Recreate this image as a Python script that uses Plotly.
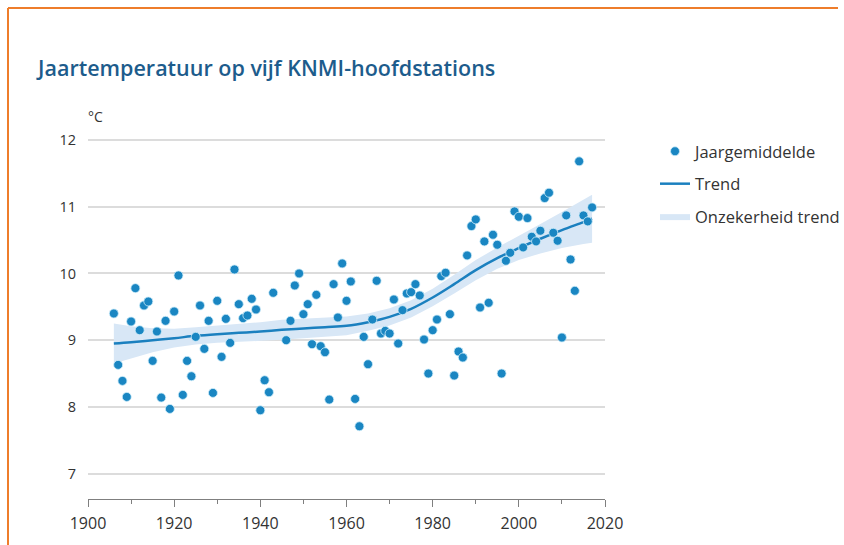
import plotly.graph_objects as go

# ---- data ----
years = list(range(1906, 1944)) + list(range(1946, 2018))
temps = [
    9.40, 8.63, 8.39, 8.15, 9.28, 9.78, 9.15, 9.52, 9.58, 8.69,   # 1906-1915
    9.13, 8.14, 9.29, 7.97, 9.43, 9.97, 8.18, 8.69, 8.46, 9.05,   # 1916-1925
    9.52, 8.87, 9.29, 8.21, 9.59, 8.75, 9.32, 8.96, 10.06, 9.54,  # 1926-1935
    9.33, 9.37, 9.62, 9.46, 7.95, 8.40, 8.22, 9.71,               # 1936-1943
    9.00, 9.29, 9.82, 10.00, 9.39, 9.54, 8.94, 9.68, 8.91, 8.82,  # 1946-1955
    8.11, 9.84, 9.34, 10.15, 9.59, 9.88, 8.12, 7.71, 9.05, 8.64,  # 1956-1965
    9.31, 9.89, 9.10, 9.14, 9.10, 9.61, 8.95, 9.45, 9.70, 9.72,   # 1966-1975
    9.84, 9.67, 9.01, 8.50, 9.15, 9.31, 9.96, 10.01, 9.39, 8.47,  # 1976-1985
    8.83, 8.74, 10.27, 10.71, 10.81, 9.49, 10.48, 9.56, 10.58, 10.43,  # 1986-1995
    8.50, 10.19, 10.31, 10.93, 10.85, 10.39, 10.83, 10.55, 10.48, 10.64,  # 1996-2005
    11.13, 11.21, 10.61, 10.49, 9.04, 10.87, 10.21, 9.74, 11.68, 10.87,  # 2006-2015
    10.78, 10.99,                                                  # 2016-2017
]

trend_years = [1906, 1910, 1915, 1920, 1925, 1930, 1935, 1940, 1945, 1950, 1955, 1960,
               1965, 1970, 1975, 1980, 1985, 1990, 1995, 2000, 2005, 2010, 2015, 2017]
trend = [8.95, 8.97, 9.00, 9.03, 9.065, 9.09, 9.11, 9.13, 9.155, 9.175, 9.195, 9.215,
         9.27, 9.35, 9.47, 9.64, 9.84, 10.05, 10.23, 10.38, 10.52, 10.65, 10.77, 10.82]
band_upper = [9.25, 9.21, 9.18, 9.17, 9.195, 9.22, 9.24, 9.27, 9.305, 9.325, 9.345, 9.355,
              9.40, 9.48, 9.60, 9.77, 9.98, 10.20, 10.39, 10.56, 10.74, 10.92, 11.10, 11.18]
band_lower = [8.65, 8.73, 8.82, 8.89, 8.935, 8.96, 8.98, 8.99, 9.005, 9.025, 9.045, 9.075,
              9.14, 9.22, 9.34, 9.51, 9.70, 9.90, 10.07, 10.20, 10.30, 10.38, 10.44, 10.46]

x_ticks = [1900, 1920, 1940, 1960, 1980, 2000, 2020]
y_ticks = [7, 8, 9, 10, 11, 12]

TITLE = "Jaartemperatuur op vijf KNMI-hoofdstations"
FONT = "Open Sans"
DOT = "#1a86c2"
LINE = "#1b80bf"
BAND = "#d8e7f6"

fig = go.Figure()

fig.add_trace(go.Scatter(
    x=trend_years, y=band_upper, mode="lines", line=dict(width=0, color=BAND),
    hoverinfo="skip", showlegend=False, legendgroup="c"))
fig.add_trace(go.Scatter(
    x=trend_years, y=band_lower, mode="lines", line=dict(width=0, color=BAND),
    fill="tonexty", fillcolor=BAND, name="Onzekerheid trend",
    legendgroup="c", legendrank=3))
fig.add_trace(go.Scatter(
    x=trend_years, y=trend, mode="lines", line=dict(color=LINE, width=2.5, shape="spline"),
    name="Trend", legendgroup="b", legendrank=2))
fig.add_trace(go.Scatter(
    x=years, y=temps, mode="markers",
    marker=dict(color=DOT, size=9, line=dict(width=0.8, color="#cfeefa")),
    name="Jaargemiddelde", legendgroup="a", legendrank=1))

W, H = 844, 545
ml, mr, mt, mb = 88, 239, 134, 46

def px_to_paper_x(px):
    return (px - ml) / (W - ml - mr)

def px_to_paper_y(py):
    return (H - mb - py) / (H - mt - mb)

fig.update_layout(
    width=W, height=H,
    margin=dict(l=ml, r=mr, t=mt, b=mb, autoexpand=False),
    paper_bgcolor="white", plot_bgcolor="white",
    font=dict(family=FONT, size=14, color="#333333"),
    title=dict(text=TITLE, x=38 / W, xanchor="left", y=1 - 68 / H, yanchor="middle",
               font=dict(family=FONT, size=21.5, color="#1d5c8c", weight=600)),
    showlegend=True,
    legend=dict(x=px_to_paper_x(655), xanchor="left", y=px_to_paper_y(134), yanchor="top",
                font=dict(family=FONT, size=16.5, color="#333333"),
                tracegroupgap=8, bgcolor="rgba(0,0,0,0)", traceorder="grouped"),
    xaxis=dict(range=[1900, 2020], tickvals=x_ticks, showgrid=False, zeroline=False,
               showline=True, linecolor="#7f7f7f", linewidth=1,
               ticks="outside", ticklen=7, tickcolor="#7f7f7f", tickwidth=1,
               minor=dict(dtick=10, ticks="outside", ticklen=4, tickcolor="#7f7f7f"),
               ticklabelstandoff=3, tickfont=dict(size=16, color="#333333")),
    yaxis=dict(range=[6.62, 12.09], tickvals=y_ticks, showgrid=True, gridcolor="#dcdcdc",
               gridwidth=2, zeroline=False, showline=False, ticks="",
               ticklabelstandoff=11, tickfont=dict(size=14.5, color="#333333")),
    shapes=[
        dict(type="line", xref="paper", yref="paper",
             x0=px_to_paper_x(8), x1=px_to_paper_x(838), y0=px_to_paper_y(8), y1=px_to_paper_y(8),
             line=dict(color="#ee7d2b", width=2)),
        dict(type="line", xref="paper", yref="paper",
             x0=px_to_paper_x(8), x1=px_to_paper_x(8), y0=px_to_paper_y(8), y1=px_to_paper_y(548),
             line=dict(color="#ee7d2b", width=2)),
    ],
    annotations=[
        dict(text="°C", xref="paper", yref="paper", x=px_to_paper_x(86), y=px_to_paper_y(116),
             xanchor="left", yanchor="middle", showarrow=False,
             font=dict(family=FONT, size=14, color="#333333")),
    ],
)

fig.write_html("out.html", config={"displayModeBar": False},
               post_script="document.body.style.margin='0';document.body.style.overflow='hidden';")
